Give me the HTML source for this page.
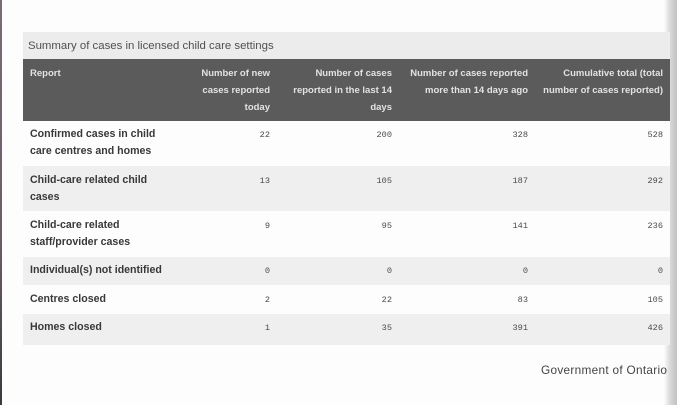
<!DOCTYPE html>
<html><head><meta charset="utf-8"><style>
html,body{margin:0;padding:0;}
body{width:677px;height:405px;position:relative;overflow:hidden;background:#fdfdfd;font-family:"Liberation Sans",sans-serif;}
.abs{position:absolute;}
.cap{left:23px;top:32px;width:647px;height:27px;background:#ececec;}
.capt{left:28px;top:39px;font-size:11.4px;color:#505050;white-space:nowrap;line-height:14px;}
.hdr{left:23px;top:59px;width:647px;height:62px;background:#5b5b5b;}
.h{top:65px;font-size:9.5px;font-weight:bold;color:#e2e2e2;line-height:17px;text-align:right;white-space:nowrap;}
.row{left:23px;width:647px;}
.g{background:#efefef;}
.w{background:#fdfdfd;}
.lab{left:30px;font-size:10.6px;font-weight:bold;color:#383838;line-height:16.5px;white-space:nowrap;}
.n{font-family:"Liberation Mono",monospace;font-size:8.6px;color:#4a4a4a;text-align:right;line-height:10px;white-space:nowrap;}
.c1{right:407px;}
.c2{right:285px;}
.c3{right:149px;}
.c4{right:14px;}
</style></head><body>
<div class="abs" style="left:0;top:0;width:2px;height:405px;background:linear-gradient(#7a6b77,#6a5d68 60%,#3a3a40);"></div>
<div class="abs" style="left:664px;top:0;width:13px;height:405px;background:linear-gradient(to right,rgba(215,215,215,0),#dadada 45%,#cbcbcb 75%,#c2c2c2);"></div>
<div class="abs cap"></div>
<div class="abs capt">Summary of cases in licensed child care settings</div>
<div class="abs hdr"></div>
<div class="abs h" style="left:30px;text-align:left;">Report</div>
<div class="abs h" style="right:407px;">Number of new<br>cases reported<br>today</div>
<div class="abs h" style="right:285px;">Number of cases<br>reported in the last 14<br>days</div>
<div class="abs h" style="right:149px;">Number of cases reported<br>more than 14 days ago</div>
<div class="abs h" style="right:14px;">Cumulative total (total<br>number of cases reported)</div>

<div class="abs row w" style="top:121px;height:45px;"></div>
<div class="abs row g" style="top:166px;height:45px;"></div>
<div class="abs row w" style="top:211px;height:46px;"></div>
<div class="abs row g" style="top:257px;height:28px;"></div>
<div class="abs row w" style="top:285px;height:29px;"></div>
<div class="abs row g" style="top:314px;height:31px;"></div>

<div class="abs lab" style="top:126px;">Confirmed cases in child<br>care centres and homes</div>
<div class="abs n c1" style="top:130px;">22</div>
<div class="abs n c2" style="top:130px;">200</div>
<div class="abs n c3" style="top:130px;">328</div>
<div class="abs n c4" style="top:130px;">528</div>

<div class="abs lab" style="top:172px;">Child-care related child<br>cases</div>
<div class="abs n c1" style="top:176px;">13</div>
<div class="abs n c2" style="top:176px;">105</div>
<div class="abs n c3" style="top:176px;">187</div>
<div class="abs n c4" style="top:176px;">292</div>

<div class="abs lab" style="top:217px;">Child-care related<br>staff/provider cases</div>
<div class="abs n c1" style="top:221px;">9</div>
<div class="abs n c2" style="top:221px;">95</div>
<div class="abs n c3" style="top:221px;">141</div>
<div class="abs n c4" style="top:221px;">236</div>

<div class="abs lab" style="top:262px;">Individual(s) not identified</div>
<div class="abs n c1" style="top:266px;">0</div>
<div class="abs n c2" style="top:266px;">0</div>
<div class="abs n c3" style="top:266px;">0</div>
<div class="abs n c4" style="top:266px;">0</div>

<div class="abs lab" style="top:291px;">Centres closed</div>
<div class="abs n c1" style="top:295px;">2</div>
<div class="abs n c2" style="top:295px;">22</div>
<div class="abs n c3" style="top:295px;">83</div>
<div class="abs n c4" style="top:295px;">105</div>

<div class="abs lab" style="top:319px;">Homes closed</div>
<div class="abs n c1" style="top:323px;">1</div>
<div class="abs n c2" style="top:323px;">35</div>
<div class="abs n c3" style="top:323px;">391</div>
<div class="abs n c4" style="top:323px;">426</div>

<div class="abs" style="left:541px;top:363px;font-size:11.8px;color:#444;letter-spacing:0.3px;white-space:nowrap;line-height:14px;">Government of Ontario</div>
</body></html>
